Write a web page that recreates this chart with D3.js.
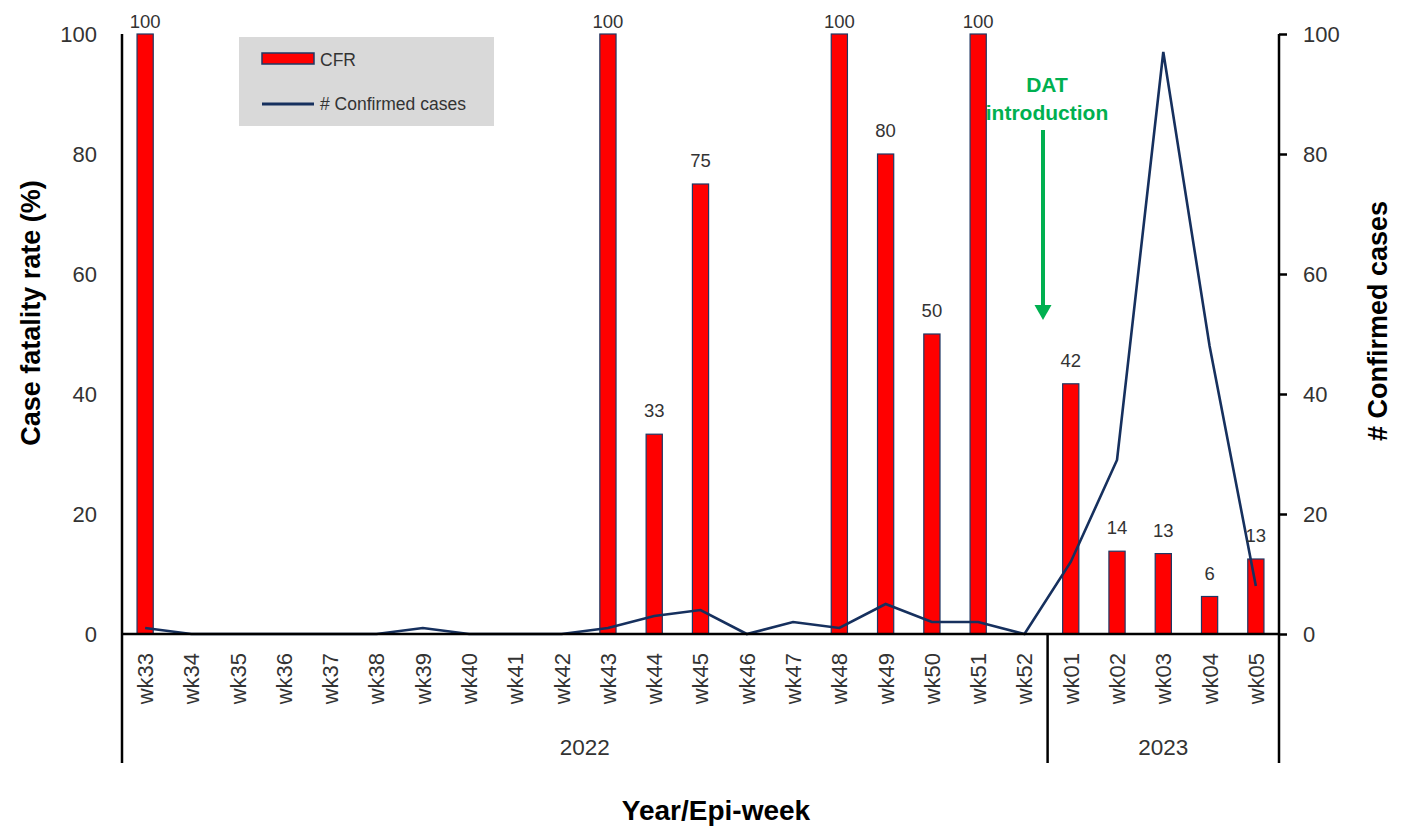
<!DOCTYPE html>
<html>
<head>
<meta charset="utf-8">
<script src="https://cdn.jsdelivr.net/npm/d3@7"></script>
<style>
  html, body { margin: 0; padding: 0; background: #fff; }
  svg { display: block; font-family: "Liberation Sans", Arial, sans-serif; }
</style>
</head>
<body>
<svg id="chart" width="1402" height="828"></svg>
<script>
// ---- Data ----
const weeks = ["wk33","wk34","wk35","wk36","wk37","wk38","wk39","wk40","wk41","wk42","wk43","wk44","wk45","wk46","wk47","wk48","wk49","wk50","wk51","wk52","wk01","wk02","wk03","wk04","wk05"];
const years = ["2022","2023"];
const yearOfWeek = ["2022","2022","2022","2022","2022","2022","2022","2022","2022","2022","2022","2022","2022","2022","2022","2022","2022","2022","2022","2022","2023","2023","2023","2023","2023"];
// CFR (%) — null where no bar is drawn
const cfr = [100,null,null,null,null,null,null,null,null,null,100,33.3,75,null,null,100,80,50,100,null,41.7,13.8,13.4,6.25,12.5];
const cfrLabels = ["100","","","","","","","","","","100","33","75","","","100","80","50","100","","42","14","13","6","13"];
const confirmed = [1,0,0,0,0,0,1,0,0,0,1,3,4,0,2,1,5,2,2,0,12,29,97,48,8];
const yTicks = [0,20,40,60,80,100];

(function () {
// ---- Layout ----
const svg = d3.select("#chart");
const pLeft = 122, pRight = 1279, pTop = 34, pBottom = 634, axisBottom = 763;
const barColor = "#FF0000", barStroke = "#1F3864", lineColor = "#16305E";
const textColor = "#333333";

const x = d3.scaleBand().domain(weeks).range([pLeft, pRight]).paddingInner(0).paddingOuter(0);
const y = d3.scaleLinear().domain([0, 100]).range([pBottom, pTop]);
const y2 = d3.scaleLinear().domain([0, 100]).range([pBottom, pTop]);
const barW = x.bandwidth() * 0.35;

// ---- Bars ----
const barData = weeks.map((w, i) => ({ w, v: cfr[i], lab: cfrLabels[i] })).filter(d => d.v !== null);
svg.append("g").selectAll("rect").data(barData).join("rect")
  .attr("x", d => x(d.w) + x.bandwidth() / 2 - barW / 2)
  .attr("y", d => y(d.v))
  .attr("width", barW)
  .attr("height", d => y(0) - y(d.v))
  .attr("fill", barColor)
  .attr("stroke", barStroke)
  .attr("stroke-width", 1.2);

// ---- Line ----
const lineData = weeks.map((w, i) => ({ w, v: confirmed[i] }));
svg.append("path").datum(lineData)
  .attr("fill", "none")
  .attr("stroke", lineColor)
  .attr("stroke-width", 2.6)
  .attr("stroke-linejoin", "miter")
  .attr("d", d3.line().x(d => x(d.w) + x.bandwidth() / 2).y(d => y2(d.v)));

// ---- Data labels ----
svg.append("g").selectAll("text").data(barData).join("text")
  .attr("x", d => x(d.w) + x.bandwidth() / 2)
  .attr("y", d => Math.max(y(d.v) - 17, pTop - 6))
  .attr("text-anchor", "middle")
  .attr("font-size", 18.5)
  .attr("fill", textColor)
  .text(d => d.lab);

// ---- Left axis ----
const gl = svg.append("g").attr("transform", `translate(${pLeft},0)`)
  .call(d3.axisLeft(y).tickValues(yTicks).tickSize(0).tickPadding(25));
gl.select(".domain").remove();
gl.selectAll("text").attr("font-size", 22).attr("fill", textColor).attr("font-family", "Liberation Sans, Arial, sans-serif");

// ---- Right axis ----
const gr = svg.append("g").attr("transform", `translate(${pRight},0)`)
  .call(d3.axisRight(y2).tickValues(yTicks).tickSizeInner(8).tickSizeOuter(0).tickPadding(16));
gr.select(".domain").remove();
gr.selectAll("line").attr("stroke", "#000").attr("stroke-width", 2.5);
gr.selectAll("text").attr("font-size", 22).attr("fill", textColor).attr("font-family", "Liberation Sans, Arial, sans-serif");

// ---- Axis lines ----
const axisG = svg.append("g").attr("stroke", "#000").attr("stroke-width", 2.5);
axisG.append("line").attr("x1", pLeft).attr("x2", pLeft).attr("y1", y(100)).attr("y2", axisBottom);
axisG.append("line").attr("x1", pRight).attr("x2", pRight).attr("y1", y2(100)).attr("y2", axisBottom);
axisG.append("line").attr("x1", pLeft).attr("x2", pRight).attr("y1", y(0)).attr("y2", y(0));
const divX = x("wk01");
axisG.append("line").attr("x1", divX).attr("x2", divX).attr("y1", y(0)).attr("y2", axisBottom);

// ---- X tick labels (rotated) ----
svg.append("g").selectAll("text").data(weeks).join("text")
  .attr("transform", d => `translate(${x(d) + x.bandwidth() / 2},653) rotate(-90)`)
  .attr("text-anchor", "end")
  .attr("dy", "0.36em")
  .attr("font-size", 22)
  .attr("fill", textColor)
  .text(d => d);

// ---- Year labels ----
years.forEach(yr => {
  const ws = weeks.filter((w, i) => yearOfWeek[i] === yr);
  const x0 = x(ws[0]), x1 = x(ws[ws.length - 1]) + x.bandwidth();
  svg.append("text")
    .attr("x", (x0 + x1) / 2).attr("y", 755)
    .attr("text-anchor", "middle")
    .attr("font-size", 22.5)
    .attr("fill", textColor)
    .text(yr);
});

// ---- Axis titles ----
svg.append("text")
  .attr("transform", `translate(40,313) rotate(-90)`)
  .attr("text-anchor", "middle")
  .attr("font-size", 27).attr("font-weight", "bold").attr("fill", "#000")
  .text("Case fatality rate (%)");
svg.append("text")
  .attr("transform", `translate(1387,321) rotate(-90)`)
  .attr("text-anchor", "middle")
  .attr("font-size", 27).attr("font-weight", "bold").attr("fill", "#000")
  .text("# Confirmed cases");
svg.append("text")
  .attr("x", 716).attr("y", 820)
  .attr("text-anchor", "middle")
  .attr("font-size", 28).attr("font-weight", "bold").attr("fill", "#000")
  .text("Year/Epi-week");

// ---- Legend ----
const lg = svg.append("g");
lg.append("rect").attr("x", 239).attr("y", 37).attr("width", 255).attr("height", 89).attr("fill", "#D9D9D9");
lg.append("rect").attr("x", 262).attr("y", 53).attr("width", 52).attr("height", 11)
  .attr("fill", barColor).attr("stroke", barStroke).attr("stroke-width", 1.5);
lg.append("text").attr("x", 320).attr("y", 66).attr("font-size", 17.5).attr("fill", textColor).text("CFR");
lg.append("line").attr("x1", 262).attr("x2", 314).attr("y1", 104).attr("y2", 104)
  .attr("stroke", lineColor).attr("stroke-width", 2.8);
lg.append("text").attr("x", 320).attr("y", 110).attr("font-size", 17.5).attr("fill", textColor).text("# Confirmed cases");

// ---- DAT annotation ----
const green = "#00B050";
const ann = svg.append("g");
ann.append("text").attr("x", 1047).attr("y", 92).attr("text-anchor", "middle")
  .attr("font-size", 21).attr("font-weight", "bold").attr("fill", green).text("DAT");
ann.append("text").attr("x", 1047).attr("y", 120).attr("text-anchor", "middle")
  .attr("font-size", 21).attr("font-weight", "bold").attr("fill", green).text("introduction");
ann.append("line").attr("x1", 1043).attr("x2", 1043).attr("y1", 130).attr("y2", 307)
  .attr("stroke", green).attr("stroke-width", 4);
ann.append("path").attr("d", "M1034.5,305 L1051.5,305 L1043,320 Z").attr("fill", green);
})();
</script>
</body>
</html>
